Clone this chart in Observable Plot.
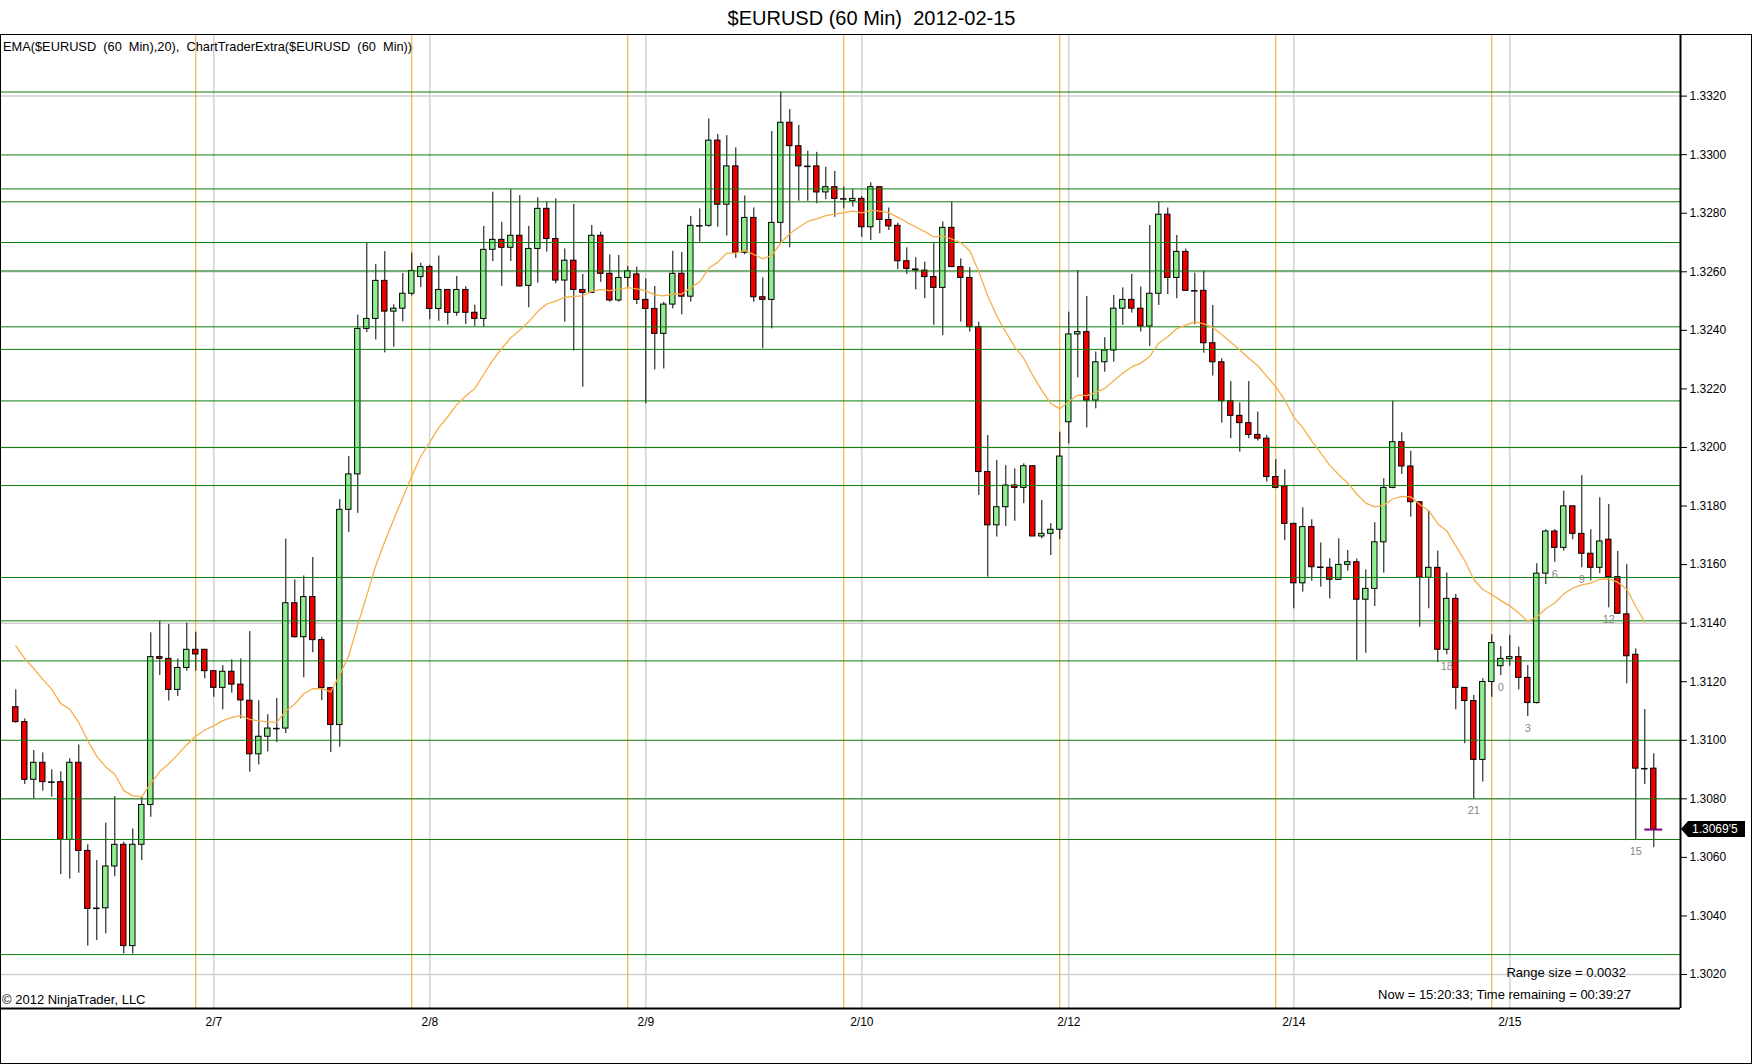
<!DOCTYPE html>
<html>
<head>
<meta charset="utf-8">
<script src="https://cdn.jsdelivr.net/npm/d3@7"></script>
<script src="https://cdn.jsdelivr.net/npm/@observablehq/plot@0.6"></script>
<style>
  body { margin: 0; background: #fff; }
  #wrap { position: relative; width: 1752px; height: 1064px; background: #fff; overflow: hidden; font-family: "Liberation Sans", Arial, sans-serif; }
  .txt { position: absolute; white-space: pre; color: #000; font-size: 13px; line-height: 14px; }
</style>
</head>
<body>
<div id="wrap">
  <div class="txt" id="title" style="left:0;top:0;width:1743px;height:34px;line-height:36px;text-align:center;font-size:20px;"></div>
  <div id="frame" style="position:absolute;left:0;top:34px;width:1752px;height:1030px;border:1px solid #000;box-sizing:border-box;"></div>
  <div id="chart" style="position:absolute;left:1px;top:35px;"></div>
  <div class="txt" id="legend" style="left:3px;top:40px;font-size:12.8px;"></div>
  <div class="txt" id="copy" style="left:2px;top:993px;"></div>
  <div class="txt" id="range" style="right:126px;top:966px;text-align:right;"></div>
  <div class="txt" id="now" style="right:121px;top:988px;text-align:right;"></div>
</div>
<script>
// ---- text ----
const titleText = "$EURUSD (60 Min)  2012-02-15";
const legendText = "EMA($EURUSD  (60  Min),20),  ChartTraderExtra($EURUSD  (60  Min))";
const copyText = "\u00A9 2012 NinjaTrader, LLC";
const rangeText = "Range size = 0.0032";
const nowText = "Now = 15:20:33; Time remaining = 00:39:27";

// ---- hourly bars (index = bar number) ----
const opens = [1.31113,1.31062,1.30865,1.30923,1.30857,1.30857,1.30660,1.30923,1.30622,1.30426,
1.30426,1.30569,1.30643,1.30297,1.30643,1.30779,1.31284,1.31278,1.31172,1.31247,
1.31309,1.31309,1.31236,1.31179,1.31234,1.31190,1.31135,1.30952,1.31012,1.31040,
1.31040,1.31468,1.31352,1.31489,1.31342,1.31178,1.31052,1.31787,1.31908,1.32405,
1.32439,1.32569,1.32464,1.32474,1.32525,1.32582,1.32616,1.32473,1.32538,1.32460,
1.32538,1.32460,1.32439,1.32675,1.32709,1.32682,1.32723,1.32552,1.32678,1.32815,
1.32712,1.32570,1.32638,1.32538,1.32528,1.32723,1.32593,1.32502,1.32579,1.32591,
1.32504,1.32473,1.32388,1.32488,1.32593,1.32515,1.32757,1.32757,1.33048,1.32829,
1.32960,1.32665,1.32784,1.32513,1.32504,1.32767,1.33109,1.33029,1.32960,1.32960,
1.32871,1.32889,1.32849,1.32841,1.32849,1.32752,1.32889,1.32777,1.32757,1.32636,
1.32608,1.32604,1.32582,1.32545,1.32750,1.32616,1.32579,1.32411,1.31916,1.31734,
1.31796,1.31870,1.31862,1.31936,1.31696,1.31705,1.31719,1.32086,1.32386,1.32394,
1.32160,1.32291,1.32331,1.32474,1.32504,1.32474,1.32413,1.32525,1.32795,1.32579,
1.32668,1.32535,1.32535,1.32356,1.32291,1.32158,1.32108,1.32083,1.32043,1.32030,
1.31899,1.31867,1.31739,1.31536,1.31728,1.31591,1.31589,1.31548,1.31599,1.31608,
1.31480,1.31517,1.31676,1.31862,1.32018,1.31935,1.31813,1.31555,1.31589,1.31309,
1.31483,1.31179,1.31134,1.30933,1.31199,1.31253,1.31277,1.31284,1.31213,1.31127,
1.31569,1.31713,1.31657,1.31799,1.31705,1.31637,1.31589,1.31685,1.31557,1.31430,
1.31292,1.30903,1.30903];

const highs = [1.31172,1.31073,1.30965,1.30957,1.30899,1.30892,1.30937,1.30984,1.30643,1.30589,
1.30717,1.30808,1.30652,1.30697,1.30806,1.31367,1.31406,1.31395,1.31278,1.31400,
1.31369,1.31309,1.31236,1.31255,1.31275,1.31278,1.31371,1.31135,1.31087,1.31143,
1.31687,1.31548,1.31561,1.31624,1.31352,1.31178,1.31822,1.31969,1.32452,1.32698,
1.32625,1.32669,1.32487,1.32594,1.32664,1.32629,1.32622,1.32654,1.32538,1.32584,
1.32549,1.32486,1.32755,1.32872,1.32769,1.32880,1.32860,1.32755,1.32853,1.32838,
1.32849,1.32678,1.32830,1.32591,1.32758,1.32735,1.32658,1.32656,1.32618,1.32616,
1.32576,1.32550,1.32496,1.32670,1.32666,1.32789,1.32815,1.33122,1.33069,1.33065,
1.33023,1.32859,1.32818,1.32579,1.33079,1.33213,1.33154,1.33100,1.33012,1.33008,
1.32957,1.32943,1.32889,1.32880,1.32857,1.32904,1.32889,1.32818,1.32766,1.32682,
1.32648,1.32633,1.32696,1.32770,1.32838,1.32644,1.32614,1.32428,1.32041,1.31956,
1.31938,1.31927,1.31944,1.31936,1.31819,1.31740,1.32052,1.32462,1.32604,1.32516,
1.32326,1.32375,1.32519,1.32545,1.32591,1.32548,1.32758,1.32838,1.32818,1.32724,
1.32678,1.32595,1.32602,1.32485,1.32303,1.32225,1.32152,1.32225,1.32121,1.32041,
1.31958,1.31924,1.31741,1.31794,1.31753,1.31674,1.31620,1.31688,1.31648,1.31619,
1.31582,1.31743,1.31893,1.32158,1.32050,1.31987,1.31813,1.31782,1.31646,1.31571,
1.31498,1.31179,1.31153,1.31210,1.31360,1.31320,1.31358,1.31318,1.31255,1.31603,
1.31719,1.31719,1.31851,1.31799,1.31904,1.31719,1.31828,1.31805,1.31645,1.31600,
1.31312,1.31105,1.30954];

const lows = [1.31058,1.30849,1.30800,1.30826,1.30806,1.30541,1.30526,1.30546,1.30297,1.30316,
1.30339,1.30534,1.30270,1.30270,1.30589,1.30737,1.31221,1.31134,1.31149,1.31236,
1.31236,1.31210,1.31147,1.31104,1.31161,1.31073,1.30891,1.30916,1.30960,1.30992,
1.31023,1.31349,1.31213,1.31299,1.31135,1.30958,1.30976,1.31710,1.31775,1.32392,
1.32367,1.32323,1.32342,1.32429,1.32517,1.32546,1.32436,1.32431,1.32418,1.32448,
1.32420,1.32414,1.32410,1.32635,1.32550,1.32635,1.32548,1.32477,1.32561,1.32667,
1.32559,1.32428,1.32329,1.32206,1.32528,1.32564,1.32496,1.32496,1.32547,1.32488,
1.32149,1.32265,1.32268,1.32473,1.32453,1.32496,1.32701,1.32752,1.32752,1.32722,
1.32646,1.32658,1.32496,1.32337,1.32405,1.32698,1.32682,1.32841,1.32841,1.32832,
1.32846,1.32786,1.32815,1.32821,1.32718,1.32707,1.32730,1.32741,1.32607,1.32591,
1.32538,1.32508,1.32417,1.32382,1.32616,1.32428,1.32394,1.31836,1.31557,1.31694,
1.31730,1.31748,1.31808,1.31696,1.31688,1.31631,1.31685,1.32012,1.32238,1.32067,
1.32132,1.32257,1.32291,1.32417,1.32459,1.32394,1.32345,1.32485,1.32522,1.32508,
1.32534,1.32419,1.32322,1.32244,1.32083,1.32030,1.31984,1.32030,1.32022,1.31882,
1.31859,1.31682,1.31449,1.31506,1.31543,1.31523,1.31483,1.31548,1.31578,1.31272,
1.31297,1.31457,1.31571,1.31859,1.31908,1.31762,1.31386,1.31449,1.31265,1.31292,
1.31104,1.30988,1.30800,1.30857,1.31147,1.31221,1.31253,1.31172,1.31081,1.31124,
1.31532,1.31608,1.31646,1.31685,1.31589,1.31544,1.31569,1.31452,1.31430,1.31193,
1.30661,1.30849,1.30633];

const closes = [1.31062,1.30865,1.30923,1.30857,1.30857,1.30660,1.30923,1.30622,1.30424,1.30426,
1.30569,1.30643,1.30297,1.30643,1.30779,1.31284,1.31278,1.31172,1.31247,1.31309,
1.31293,1.31236,1.31179,1.31234,1.31190,1.31136,1.30952,1.31012,1.31040,1.31040,
1.31468,1.31352,1.31489,1.31342,1.31178,1.31052,1.31787,1.31908,1.32405,1.32439,
1.32569,1.32464,1.32474,1.32525,1.32603,1.32616,1.32473,1.32538,1.32460,1.32538,
1.32460,1.32439,1.32675,1.32709,1.32682,1.32723,1.32550,1.32678,1.32815,1.32712,
1.32570,1.32638,1.32538,1.32528,1.32723,1.32593,1.32502,1.32579,1.32602,1.32504,
1.32473,1.32388,1.32488,1.32593,1.32515,1.32757,1.32757,1.33048,1.32829,1.32960,
1.32665,1.32784,1.32513,1.32504,1.32767,1.33109,1.33029,1.32960,1.32960,1.32871,
1.32889,1.32849,1.32849,1.32849,1.32752,1.32889,1.32777,1.32755,1.32636,1.32610,
1.32604,1.32582,1.32545,1.32750,1.32616,1.32579,1.32411,1.31916,1.31734,1.31796,
1.31870,1.31862,1.31936,1.31696,1.31705,1.31719,1.31969,1.32386,1.32394,1.32160,
1.32291,1.32331,1.32474,1.32504,1.32474,1.32413,1.32525,1.32795,1.32579,1.32668,
1.32535,1.32535,1.32356,1.32291,1.32158,1.32108,1.32083,1.32043,1.32030,1.31899,
1.31862,1.31739,1.31536,1.31728,1.31591,1.31591,1.31548,1.31599,1.31608,1.31480,
1.31517,1.31676,1.31862,1.32018,1.31935,1.31813,1.31555,1.31589,1.31309,1.31483,
1.31179,1.31134,1.30933,1.31199,1.31332,1.31278,1.31284,1.31213,1.31127,1.31569,
1.31713,1.31657,1.31799,1.31705,1.31637,1.31589,1.31679,1.31557,1.31432,1.31287,
1.30903,1.30903,1.30695];

// EMA(20) values read per bar
const ema = [1.31322,1.31279,1.31245,1.31208,1.31174,1.31125,1.31106,1.31060,1.30999,1.30945,
1.30909,1.30884,1.30828,1.30810,1.30807,1.30853,1.30893,1.30920,1.30951,1.30985,
1.31014,1.31035,1.31049,1.31067,1.31078,1.31084,1.31071,1.31066,1.31063,1.31061,
1.31100,1.31124,1.31159,1.31176,1.31176,1.31165,1.31224,1.31289,1.31395,1.31495,
1.31597,1.31679,1.31755,1.31828,1.31902,1.31970,1.32018,1.32068,1.32105,1.32146,
1.32176,1.32201,1.32250,1.32298,1.32338,1.32375,1.32400,1.32430,1.32465,1.32490,
1.32500,1.32513,1.32516,1.32518,1.32534,1.32539,1.32536,1.32540,1.32546,1.32542,
1.32535,1.32521,1.32518,1.32525,1.32524,1.32546,1.32566,1.32612,1.32633,1.32664,
1.32664,1.32674,1.32659,1.32644,1.32656,1.32699,1.32730,1.32752,1.32772,1.32781,
1.32792,1.32797,1.32802,1.32807,1.32801,1.32810,1.32807,1.32802,1.32786,1.32769,
1.32753,1.32737,1.32719,1.32722,1.32712,1.32699,1.32672,1.32600,1.32517,1.32449,
1.32394,1.32343,1.32304,1.32246,1.32195,1.32150,1.32132,1.32157,1.32179,1.32177,
1.32188,1.32202,1.32228,1.32254,1.32275,1.32288,1.32311,1.32357,1.32378,1.32406,
1.32418,1.32429,1.32422,1.32410,1.32386,1.32359,1.32333,1.32305,1.32279,1.32243,
1.32207,1.32162,1.32103,1.32068,1.32022,1.31981,1.31939,1.31907,1.31878,1.31841,
1.31810,1.31797,1.31803,1.31824,1.31833,1.31831,1.31805,1.31784,1.31739,1.31715,
1.31664,1.31613,1.31549,1.31515,1.31498,1.31477,1.31459,1.31435,1.31406,1.31421,
1.31449,1.31469,1.31500,1.31520,1.31531,1.31537,1.31550,1.31551,1.31540,1.31516,
1.31457,1.31404];

// horizontal level lines (green)
const levels = [1.33214,1.32999,1.32883,1.32839,1.32700,1.32603,1.32412,1.32335,1.32159,1.32000,
1.31870,1.31556,1.31408,1.31271,1.31000,1.30800,1.30661,1.30268];
// light grid levels
const gridLevels = [1.3020,1.3080,1.3140,1.3200,1.3260,1.3320];
// price axis ticks
const yTicks = [1.3020,1.3040,1.3060,1.3080,1.3100,1.3120,1.3140,1.3160,1.3180,1.3200,1.3220,1.3240,1.3260,1.3280,1.3300,1.3320];
// date labels and their bars
const dayLabels = ["2/7","2/8","2/9","2/10","2/12","2/14","2/15"];
const dayIdx = [22,46,70,94,117,142,166];
// session-start bars (orange lines)
const sessionIdx = [20,44,68,92,116,140,164];
// ChartTraderExtra hour labels
const hourLabels = ["18","21","0","3","6","9","12","15"];
const hourIdx = [159,162,165,168,171,174,177,180];

// ---- scale extents ----
const xDomain = [-1.589, 184.967];
const yDomain = [1.300839, 1.334070];

document.getElementById("title").textContent = titleText;
document.getElementById("legend").textContent = legendText;
document.getElementById("copy").textContent = copyText;
document.getElementById("range").textContent = rangeText;
document.getElementById("now").textContent = nowText;

const N = closes.length;
const bars = closes.map((c, i) => ({i, o: opens[i], h: highs[i], l: lows[i], c}));
const bodies = bars.filter(d => d.o !== d.c);
const dojis = bars.filter(d => d.o === d.c);
const emaPts = ema.map((v, i) => ({i, v}));
const hourPts = hourIdx.map((i, k) => ({i, l: lows[i], t: hourLabels[k]}));
const last = bars[N - 1];

const chart = Plot.plot({
  width: 1750,
  height: 1028,
  marginLeft: 0,
  marginRight: 71,
  marginTop: 0,
  marginBottom: 55,
  x: {type: "linear", domain: xDomain, axis: null, label: null},
  y: {type: "linear", domain: yDomain, axis: null, label: null},
  color: {type: "identity"},
  style: {fontFamily: "'Liberation Sans', Arial, sans-serif", fontSize: "12px", background: "white", overflow: "visible"},
  marks: [
    Plot.ruleY(gridLevels, {stroke: "#cfcfcf", strokeWidth: 1.5}),
    Plot.ruleX(dayIdx, {stroke: "#d2d2d2", strokeWidth: 1.5}),
    Plot.ruleX(sessionIdx, {stroke: "#f5a623", strokeWidth: 1}),
    Plot.ruleX(bars, {x: "i", y1: "l", y2: "h", stroke: "#000", strokeWidth: 1}),
    Plot.rect(bodies, {
      x1: d => d.i - 0.3, x2: d => d.i + 0.3, y1: "o", y2: "c",
      fill: d => d.c > d.o ? "#90ee90" : "#ee0000",
      stroke: "#000", strokeWidth: 1
    }),
    Plot.ruleY(dojis, {x1: d => d.i - 0.36, x2: d => d.i + 0.36, y: "c", stroke: "#000", strokeWidth: 1.5}),
    Plot.ruleY(levels, {stroke: "#0b7d0b", strokeWidth: 1}),
    Plot.line(emaPts, {x: "i", y: "v", stroke: "#f4b04a", strokeWidth: 1.3}),
    Plot.text(hourPts, {x: "i", y: "l", text: "t", dy: 12, fill: "#888", fontSize: 11}),
    Plot.ruleY([last], {x1: d => d.i - 1, x2: d => d.i + 1, y: "c", stroke: "#800080", strokeWidth: 2}),
    Plot.axisY(yTicks, {anchor: "right", label: null, tickSize: 6, tickPadding: 3, tickFormat: d => d.toFixed(4), fontSize: 12}),
    Plot.axisX(dayIdx, {anchor: "bottom", label: null, tickSize: 0, tickPadding: 9, tickFormat: d => dayLabels[dayIdx.indexOf(d)], fontSize: 12}),
    Plot.ruleX([xDomain[1]], {stroke: "#000", strokeWidth: 2}),
    Plot.ruleY([yDomain[0]], {stroke: "#000", strokeWidth: 2})
  ]
});
document.getElementById("chart").appendChild(chart);

// price tag for the last close
const ys = chart.scale("y").apply(last.c);
const xr = chart.scale("x").apply(xDomain[1]);
const s = last.c.toFixed(5);
const tagText = s.slice(0, -1) + "'" + s.slice(-1);
const g = d3.select(chart).append("g").attr("text-anchor", "start");
g.append("path")
  .attr("d", `M${xr + 1},${ys} L${xr + 8},${ys - 8} H${xr + 65} V${ys + 8} H${xr + 8} Z`)
  .attr("fill", "#000");
g.append("text")
  .attr("x", xr + 12).attr("y", ys).attr("dy", "0.35em")
  .attr("text-anchor", "start")
  .attr("fill", "#fff").attr("font-size", 12)
  .text(tagText);
</script>
</body>
</html>
